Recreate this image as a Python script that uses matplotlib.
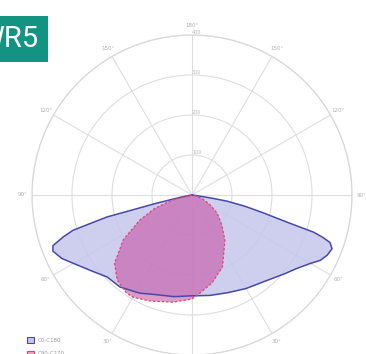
import numpy as np
import matplotlib
matplotlib.use("Agg")
import matplotlib.pyplot as plt
from matplotlib.patches import Patch, Rectangle

# ---- data (cd/klm, angle from nadir in degrees) ----
c0_right_ang = [0, 10, 20, 30, 40, 50, 55, 60, 63, 66, 69, 71, 72, 73, 74, 76, 78, 80, 81, 82, 83, 90]
c0_right_val = [252, 255, 260, 270, 282, 305, 320, 342, 360, 370, 375, 365, 345, 318, 250, 182, 135, 90, 50, 15, 0, 0]
c0_left_ang = [0, 10, 20, 28, 38, 46, 53, 60, 64, 68, 70, 72, 73.5, 75.5, 77, 79, 81, 90]
c0_left_val = [252, 258, 265, 278, 292, 295, 315, 342, 362, 375, 370, 338, 310, 220, 90, 25, 0, 0]

c90_right_ang = [0, 5, 13, 23, 36, 45, 54, 62, 70, 80, 90]
c90_right_val = [260, 245, 225, 195, 140, 105, 78, 50, 28, 8, 0]
c90_left_ang = [0, 10, 21.6, 30, 33.6, 41.4, 48.6, 56.9, 64.3, 70, 75, 80, 85, 90]
c90_left_val = [260, 272, 285, 295, 295, 283, 258, 205, 145, 100, 55, 20, 0, 0]

series_labels = ["C0-C180", "C90-C270"]
r_ticks = [100, 200, 300, 400]
theta_ticks = list(range(0, 360, 30))
theta_labels = ["", "30°", "60°", "90°", "120°", "150°", "180°", "150°", "120°", "90°", "60°", "30°"]
badge_text = "WR5"


def profile(lang, lval, rang, rval):
    ang = [-a for a in lang[::-1]] + list(rang[1:])
    val = list(lval[::-1]) + list(rval[1:])
    return np.deg2rad(ang), np.array(val, dtype=float)


W, H = 366, 354
fig = plt.figure(figsize=(W / 100, H / 100), dpi=100)
fig.patch.set_facecolor("white")

cx, cy, R = 192, 195, 160
ax = fig.add_axes([(cx - R) / W, (H - cy - R) / H, 2 * R / W, 2 * R / H], projection="polar")
ax.set_theta_zero_location("S")
ax.set_theta_direction(1)
ax.set_ylim(0, 400)
ax.set_rticks(r_ticks)
ax.set_yticklabels([str(v) for v in r_ticks], fontsize=3.5, color="#b8b8b8")
ax.set_rlabel_position(180)
ax.set_thetagrids(theta_ticks, theta_labels, fontsize=4, color="#b0b0b0")
ax.tick_params(axis="x", pad=-4)
ax.grid(True, color="#dedede", lw=0.8)
ax.spines["polar"].set_color("#d8d8d8")
ax.spines["polar"].set_linewidth(0.9)
ax.set_facecolor("white")

t0, v0 = profile(c0_left_ang, c0_left_val, c0_right_ang, c0_right_val)
t1, v1 = profile(c90_left_ang, c90_left_val, c90_right_ang, c90_right_val)

ax.fill(t0, v0, facecolor="#c6c6ec", alpha=0.85, edgecolor="none", zorder=3)
ax.plot(t0, v0, color="#4848a6", lw=1.1, zorder=5)
ax.fill(t1, v1, facecolor="#c8489c", alpha=0.55, edgecolor="none", zorder=4)
ax.plot(t1, v1, color="#e04474", lw=0.9, ls=(0, (2, 1.5)), zorder=6)

# legend
handles = [Patch(facecolor="#c6c6ec", edgecolor="#4848a6", lw=0.8),
           Patch(facecolor="#f0a0c0", edgecolor="#e04474", lw=0.8)]
fig.legend(handles, series_labels, loc="upper left",
           bbox_to_anchor=(25 / W, (H - 335) / H), frameon=False,
           fontsize=4, labelcolor="#9a9a9a", handlelength=1.3, handleheight=1.3,
           handletextpad=0.6, labelspacing=1.3, borderaxespad=0)

# badge
fig.add_artist(Rectangle((0, (H - 62) / H), 48 / W, 46 / H, transform=fig.transFigure,
                         facecolor="#139483", edgecolor="none"))
fig.text(38 / W, (H - 39) / H, badge_text, ha="right", va="center", color="white",
         fontsize=21, family=["Liberation Sans Narrow", "Roboto", "DejaVu Sans"])

fig.savefig("out.png", dpi=100)
